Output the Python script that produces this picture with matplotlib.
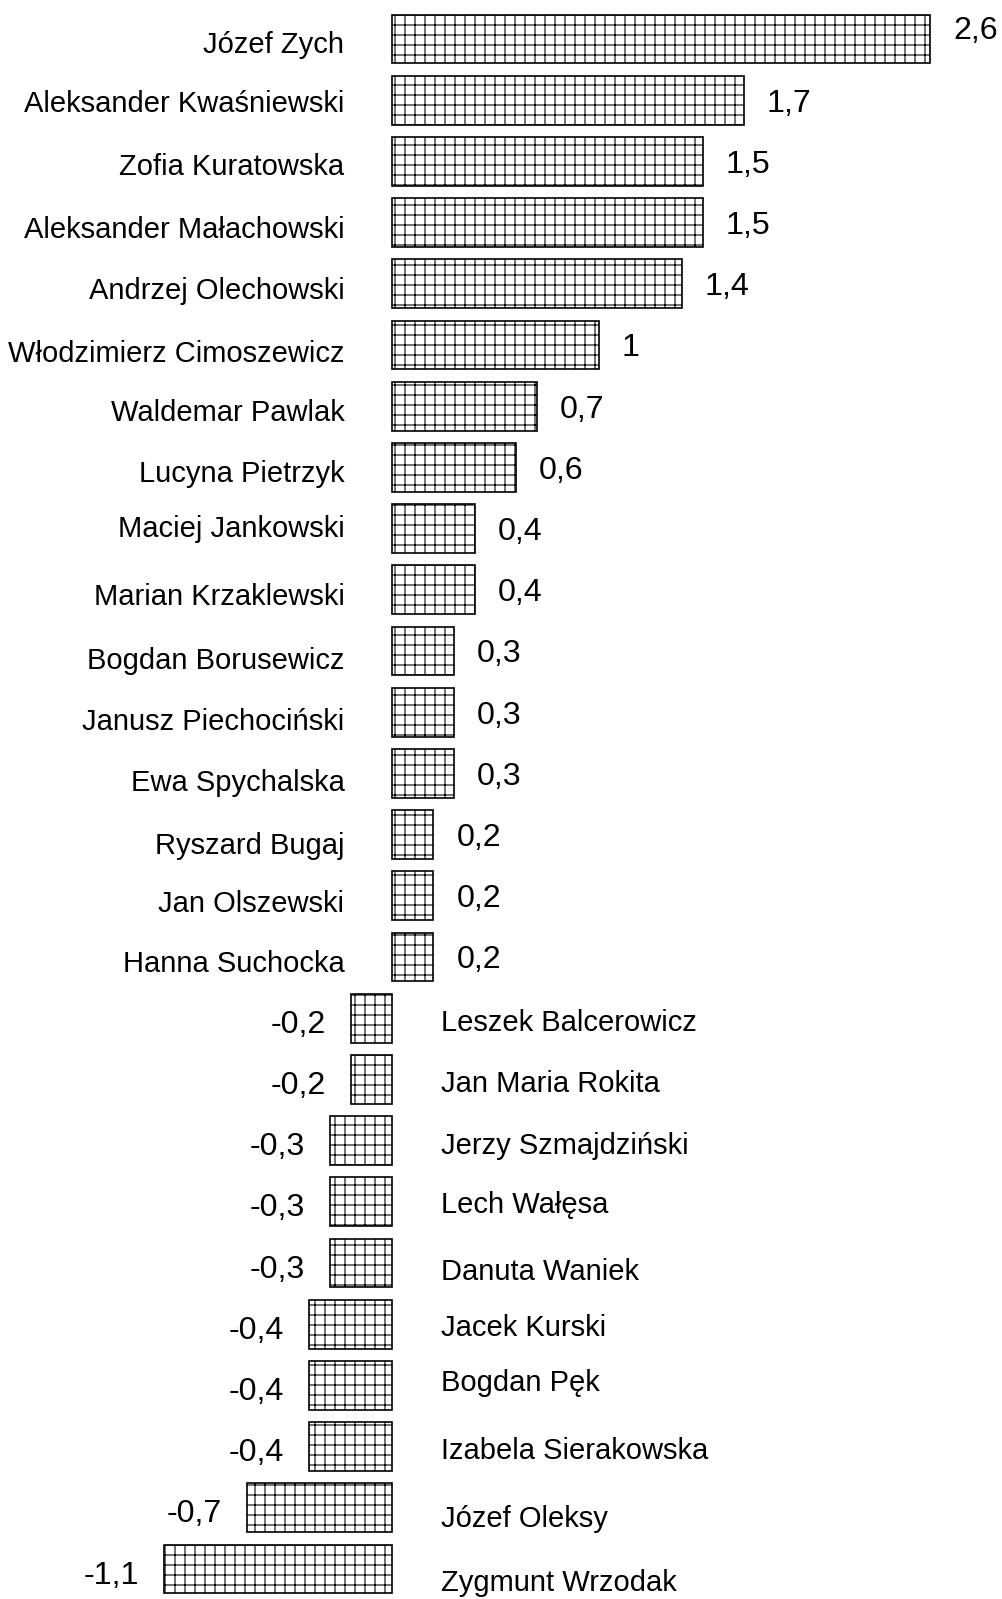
import matplotlib
matplotlib.use("Agg")
import matplotlib.pyplot as plt

names = ["Józef Zych", "Aleksander Kwaśniewski", "Zofia Kuratowska",
         "Aleksander Małachowski", "Andrzej Olechowski", "Włodzimierz Cimoszewicz",
         "Waldemar Pawlak", "Lucyna Pietrzyk", "Maciej Jankowski", "Marian Krzaklewski",
         "Bogdan Borusewicz", "Janusz Piechociński", "Ewa Spychalska", "Ryszard Bugaj",
         "Jan Olszewski", "Hanna Suchocka", "Leszek Balcerowicz", "Jan Maria Rokita",
         "Jerzy Szmajdziński", "Lech Wałęsa", "Danuta Waniek", "Jacek Kurski",
         "Bogdan Pęk", "Izabela Sierakowska", "Józef Oleksy", "Zygmunt Wrzodak"]
values = [2.6, 1.7, 1.5, 1.5, 1.4, 1.0, 0.7, 0.6, 0.4, 0.4, 0.3, 0.3, 0.3, 0.2, 0.2, 0.2,
          -0.2, -0.2, -0.3, -0.3, -0.3, -0.4, -0.4, -0.4, -0.7, -1.1]
value_labels = ["2,6", "1,7", "1,5", "1,5", "1,4", "1", "0,7", "0,6", "0,4", "0,4",
                "0,3", "0,3", "0,3", "0,2", "0,2", "0,2",
                "-0,2", "-0,2", "-0,3", "-0,3", "-0,3", "-0,4", "-0,4", "-0,4", "-0,7", "-1,1"]

# layout: baseline shift (px) of each name label relative to its bar centre
name_shift_px = [14, 12, 14, 15, 15, 17, 15, 15, 8, 15, 18, 18, 18, 19, 16, 15,
                 13, 13, 13, 11, 17, 12, 6, 12, 19, 22]
# layout: baseline shift (px) of each value label relative to its bar centre
value_shift_px = [0] + [11.5] * 15 + [14.5] * 10

DPI = 60
W, H = 1002, 1599
plt.rcParams['font.family'] = ['Liberation Sans', 'DejaVu Sans']
plt.rcParams['hatch.linewidth'] = 1.3
plt.rcParams['hatch.color'] = 'black'

fig = plt.figure(figsize=(W / DPI, H / DPI), dpi=DPI)
ax = fig.add_axes([0, 0, 1, 1])
ax.set_axis_off()

zero_px = 392.0
unit_px = 207.0
y0_px = 39.0
step_px = 61.2
ax.set_xlim(-zero_px / unit_px, (W - zero_px) / unit_px)
ax.set_ylim((H - y0_px) / step_px, -y0_px / step_px)

ypos = list(range(len(values)))
ax.barh(ypos, values, height=0.8, color='white', edgecolor='black',
        linewidth=2.0, hatch='+')

name_fs = 35
val_fs = 38.5
px_x = 1.0 / unit_px
px_y = 1.0 / step_px
for i, (n, v, lab) in enumerate(zip(names, values, value_labels)):
    ny = i + name_shift_px[i] * px_y
    vy = i + value_shift_px[i] * px_y
    if v >= 0:
        ax.text(-47.5 * px_x, ny, n, ha='right', va='baseline', fontsize=name_fs)
        ax.text(v + 23 * px_x, vy, lab, ha='left', va='baseline', fontsize=val_fs)
    else:
        ax.text(49.5 * px_x, ny, n, ha='left', va='baseline', fontsize=name_fs)
        ax.text(v - 25 * px_x, vy, lab, ha='right', va='baseline', fontsize=val_fs)

fig.savefig("out.png", dpi=DPI)
